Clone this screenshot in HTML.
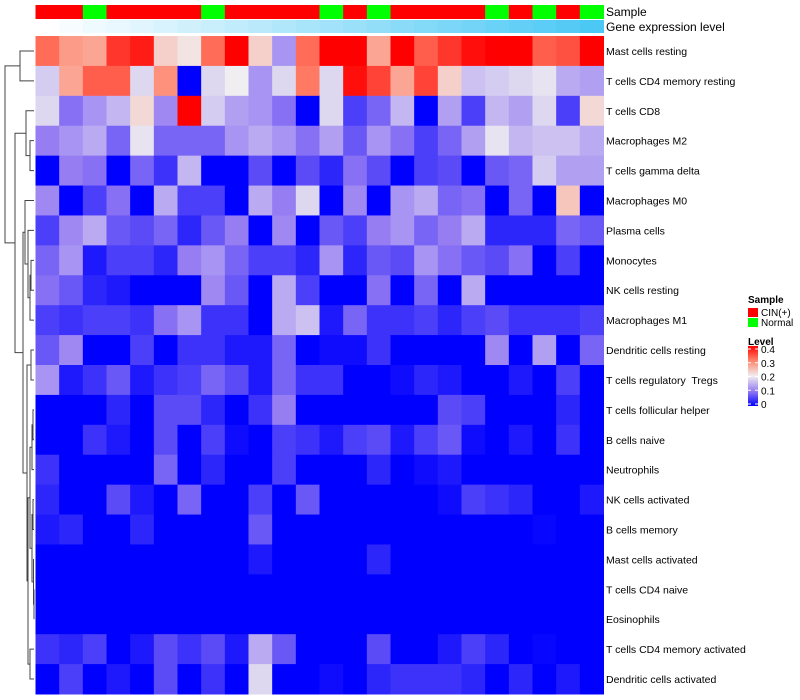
<!DOCTYPE html>
<html><head><meta charset="utf-8"><style>
body{margin:0;background:#fff;}
svg{display:block;font-family:"Liberation Sans",sans-serif;}
svg text{white-space:pre;}
</style></head><body>
<svg id="chart" width="800" height="700" xmlns="http://www.w3.org/2000/svg"></svg>
<script>
const rowLabels=["Mast cells resting","T cells CD4 memory resting","T cells CD8","Macrophages M2","T cells gamma delta","Macrophages M0","Plasma cells","Monocytes","NK cells resting","Macrophages M1","Dendritic cells resting","T cells regulatory  Tregs","T cells follicular helper","B cells naive","Neutrophils","NK cells activated","B cells memory","Mast cells activated","T cells CD4 naive","Eosinophils","T cells CD4 memory activated","Dendritic cells activated"];
const sampleGroups=["C","C","N","C","C","C","C","N","C","C","C","C","N","C","N","C","C","C","C","N","C","N","C","N"];
const geneLevels=[0,1,2,3,4,5,6,7,8,9,10,11,12,13,14,15,16,17,18,19,20,21,22,23];
const row0=[.32,.28,.27,.36,.38,.23,.21,.32,.4,.23,.12,.32,.4,.4,.27,.4,.33,.36,.39,.4,.4,.33,.34,.4];
const row1=[.17,.27,.33,.33,.18,.29,0,.18,.2,.12,.18,.31,.18,.39,.35,.27,.35,.23,.16,.17,.18,.19,.14,.13];
const row2=[.18,.09,.12,.15,.22,.11,.4,.17,.13,.12,.09,0,.18,.05,.08,.15,0,.13,.05,.15,.13,.18,.05,.22];
const row3=[.10,.12,.14,.08,.19,.08,.08,.08,.12,.14,.12,.09,.13,.07,.12,.09,.05,.08,.13,.19,.15,.16,.16,.14];
const row4=[0,.10,.09,0,.08,.04,.15,0,0,.06,0,.06,.03,.09,.06,0,.05,.06,0,.07,.08,.17,.13,.13];
const row5=[.11,0,.05,.09,0,.14,.05,.05,0,.14,.10,.18,0,.11,0,.12,.14,.08,.09,0,.08,0,.24,0];
const row6=[.05,.11,.14,.07,.06,.08,.03,.07,.10,0,.11,0,.07,.05,.10,.12,.08,.10,.14,.03,.03,.03,.08,.07];
const row7=[.08,.12,.02,.05,.05,.03,.10,.12,.08,.05,.05,.03,.12,.03,.07,.06,.12,.09,.07,.06,.09,0,.05,0];
const row8=[.09,.07,.03,.02,0,0,0,.11,.07,0,.14,.05,0,0,.09,0,.08,0,.14,0,0,0,0,0];
const row9=[.05,.04,.05,.05,.04,.09,.12,.04,.04,0,.14,.16,.02,.08,.04,.04,.05,.03,.05,.06,.04,.04,.04,.05];
const row10=[.07,.11,0,0,.05,0,.04,.04,.02,.02,.08,0,.01,.01,.04,0,0,0,0,.11,0,.13,0,.08];
const row11=[.12,.02,.04,.07,.02,.04,.05,.08,.06,.02,.08,.04,.04,0,0,.01,.03,.02,0,0,.02,0,.05,0];
const row12=[0,0,0,.03,0,.06,.06,.03,0,.04,.10,0,0,0,0,0,0,.06,.05,0,0,0,.03,0];
const row13=[0,0,.04,.02,0,.06,0,.05,.01,0,.05,.04,.02,.05,.06,.02,.05,.07,.01,0,.02,0,.04,0];
const row14=[.04,0,0,0,0,.08,0,.03,0,0,.05,0,0,0,.03,0,.01,.02,0,0,0,0,0,0];
const row15=[.03,0,0,.06,.02,0,.08,0,0,.05,0,.07,0,0,0,0,0,.01,.05,.04,.03,0,0,.02];
const row16=[.02,.03,0,0,.03,0,0,0,0,.07,0,0,0,0,0,0,0,0,0,0,0,.005,0,0];
const row17=[0,0,0,0,0,0,0,0,0,.02,0,0,0,0,.03,0,0,0,0,0,0,0,0,0];
const row18=[0,0,0,0,0,0,0,0,0,0,0,0,0,0,0,0,0,0,0,0,0,0,0,0];
const row19=[0,0,0,0,0,0,0,0,0,0,0,0,0,0,0,0,0,0,0,0,0,0,0,0];
const row20=[.04,.03,.05,0,.02,.06,.04,.06,.02,.14,.07,0,0,0,.06,0,0,.02,.05,.03,0,.005,0,0];
const row21=[0,.05,0,.02,0,.06,0,.04,0,.18,0,0,.01,0,.03,.04,.04,.04,.03,0,.03,0,.02,0];
const values=[row0,row1,row2,row3,row4,row5,row6,row7,row8,row9,row10,row11,row12,row13,row14,row15,row16,row17,row18,row19,row20,row21];
const legendTicks=[0,0.1,0.2,0.3,0.4];

const NS="http://www.w3.org/2000/svg";
const svg=document.getElementById('chart');
const X0=35.5,X1=603.5,Y0=36,Y1=694;
const nC=24,nR=22;
const cw=(X1-X0)/nC,rh=(Y1-Y0)/nR;
const xPos=c=>X0+c*cw;
const yPos=r=>Y0+r*rh;
function mk(tag,attrs){const e=document.createElementNS(NS,tag);for(const k in attrs)e.setAttribute(k,attrs[k]);svg.appendChild(e);return e;}
const stops=[[0,[0,0,255]],[0.1,[150,125,242]],[0.2,[240,238,240]],[0.3,[255,135,110]],[0.4,[255,0,0]]];
function col(v){v=Math.max(0,Math.min(0.4,v));for(let i=0;i<stops.length-1;i++){const a=stops[i],b=stops[i+1];if(v<=b[0]){const t=(v-a[0])/(b[0]-a[0]);const c=a[1].map((x,j)=>Math.round(x+(b[1][j]-x)*t));return `rgb(${c})`;}}return 'red';}

sampleGroups.forEach((g,c)=>{
  const r=mk('rect',{x:xPos(c),y:5,width:cw+0.5,height:14,fill:g==="C"?"#ff0000":"#00ff00"});
  
  
});
geneLevels.forEach((g,c)=>{
  const t=g/(geneLevels.length-1);
  const r=mk('rect',{x:xPos(c),y:20,width:cw+0.5,height:13,fill:`rgb(${Math.round(255-(255-76)*t)},${Math.round(255-(255-200)*t)},${Math.round(255-(255-245)*t)})`});
  
  
});
let t1=mk('text',{x:606,y:16,'font-size':12});t1.textContent="Sample";


let t2=mk('text',{x:606,y:31,'font-size':12});t2.textContent="Gene expression level";



values.forEach((row,r)=>{
  row.forEach((v,c)=>{
    const e=mk('rect',{x:xPos(c),y:yPos(r),width:cw+0.5,height:rh+0.5,fill:col(v)});
    
    
  });
  const lb=mk('text',{x:606,y:yPos(r)+rh/2+4,'font-size':10.5});
  lb.textContent=rowLabels[r];
  
  
});

const yc=r=>yPos(r)+rh/2;
let dpath="";
function link(xa,ya,xb,yb,xm){dpath+=`M${xa},${ya}H${xm}V${yb}H${xb}`;}
link(34,yc(0),34,yc(1),20); const A=[20,(yc(0)+yc(1))/2];
link(34,yc(3),34,yc(4),30); const B=[30,(yc(3)+yc(4))/2];
link(34,yc(2),B[0],B[1],26); const C=[26,(yc(2)+B[1])/2];
link(34,yc(7),34,yc(8),31); let n1=[31,(yc(7)+yc(8))/2];
link(n1[0],n1[1],34,yc(9),30); n1=[30,(n1[1]+yc(9))/2];
link(34,yc(6),n1[0],n1[1],28); n1=[28,(yc(6)+n1[1])/2];
link(34,yc(5),n1[0],n1[1],25); n1=[25,(yc(5)+n1[1])/2];
link(34,yc(10),34,yc(11),31); let n2=[31,(yc(10)+yc(11))/2];
link(34,yc(12),34,yc(13),33); let n3=[33,(yc(12)+yc(13))/2];
link(n3[0],n3[1],34,yc(14),32); n3=[32,(n3[1]+yc(14))/2];
link(34,yc(15),34,yc(16),33); let n4=[33,(yc(15)+yc(16))/2];
link(34,yc(18),34,yc(19),34); let n5=[34,(yc(18)+yc(19))/2];
link(34,yc(17),n5[0],n5[1],33.5); n5=[33.5,(yc(17)+n5[1])/2];
link(n4[0],n4[1],n5[0],n5[1],32); n4=[32,(n4[1]+n5[1])/2];
link(n3[0],n3[1],n4[0],n4[1],30); n3=[30,(n3[1]+n4[1])/2];
link(34,yc(20),34,yc(21),30); let n6=[30,(yc(20)+yc(21))/2];
link(n3[0],n3[1],n6[0],n6[1],28); n3=[28,(n3[1]+n6[1])/2];
link(n2[0],n2[1],n3[0],n3[1],27); n2=[27,(n2[1]+n3[1])/2];
link(n1[0],n1[1],n2[0],n2[1],23); n1=[23,(n1[1]+n2[1])/2];
link(C[0],C[1],n1[0],n1[1],15); const D=[15,(C[1]+n1[1])/2];
link(A[0],A[1],D[0],D[1],5);
const dg=mk('path',{d:dpath,fill:'none',stroke:'#444','stroke-width':1});



let lt=mk('text',{x:748,y:303,'font-size':10,'font-weight':'bold'});lt.textContent="Sample";


[["#ff0000","CIN(+)",308],["#00ff00","Normal",318]].forEach(([f,t,y])=>{
  const r=mk('rect',{x:748,y:y,width:10,height:9,fill:f});
  
  
  const tx=mk('text',{x:761,y:y+8,'font-size':10});tx.textContent=t;
  
  
});
let lv=mk('text',{x:748,y:345,'font-size':10,'font-weight':'bold'});lv.textContent="Level";


const LB0=404,LB1=349;
const ly=v=>LB0-(v/0.4)*(LB0-LB1);
const defs=mk('defs',{});
const grad=document.createElementNS(NS,'linearGradient');
grad.setAttribute('id','lg');grad.setAttribute('x1','0');grad.setAttribute('y1','1');grad.setAttribute('x2','0');grad.setAttribute('y2','0');
stops.forEach(s=>{const st=document.createElementNS(NS,'stop');st.setAttribute('offset',s[0]/0.4);st.setAttribute('stop-color',`rgb(${s[1]})`);grad.appendChild(st);});
defs.appendChild(grad);
const cb=mk('rect',{x:748,y:346,width:10,height:60,fill:'url(#lg)'});


legendTicks.forEach(v=>{
  const y=ly(v);
  mk('line',{x1:748,x2:751,y1:y,y2:y,stroke:'#fff'});
  mk('line',{x1:755,x2:758,y1:y,y2:y,stroke:'#fff'});
  const tx=mk('text',{x:761,y:y+4,'font-size':10});tx.textContent=String(v);
  
  
});
</script>
</body></html>
